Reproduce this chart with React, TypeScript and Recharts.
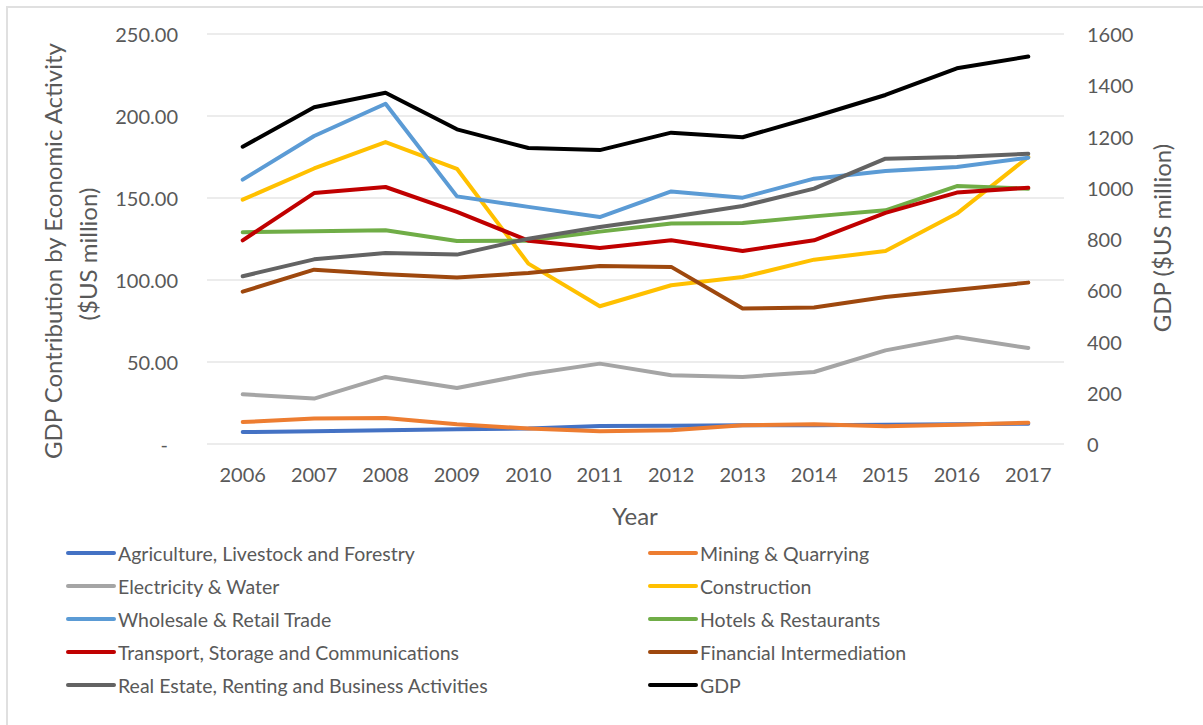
import { LineChart, Line, XAxis, YAxis, CartesianGrid } from "recharts";

const FONT = "Lato, 'Open Sans', sans-serif";
const TEXT = "#595959";

// values
const years = ["2006", "2007", "2008", "2009", "2010", "2011", "2012", "2013", "2014", "2015", "2016", "2017"];
const agriculture = [7.3, 7.7, 8.4, 9.0, 9.4, 11.0, 11.2, 11.4, 11.5, 11.7, 12.0, 12.4];
const mining = [13.4, 15.5, 15.9, 12.0, 9.4, 7.7, 8.4, 11.4, 12.0, 10.8, 11.8, 13.0];
const electricity = [30.3, 27.7, 40.9, 34.1, 42.5, 49.0, 41.9, 40.9, 43.9, 57.1, 65.2, 58.5];
const construction = [149.0, 168.0, 184.1, 167.8, 110.0, 84.0, 96.8, 101.8, 112.4, 117.7, 140.5, 175.0];
const wholesale = [161.2, 187.8, 207.5, 151.0, 144.6, 138.4, 154.0, 150.2, 161.8, 166.5, 168.9, 174.6];
const hotels = [129.1, 129.7, 130.3, 123.8, 124.0, 129.5, 134.4, 134.8, 138.8, 142.5, 157.3, 155.7];
const transport = [124.2, 153.0, 156.7, 141.5, 124.0, 119.5, 124.2, 117.7, 124.2, 140.9, 153.3, 156.3];
const financial = [92.9, 106.3, 103.5, 101.5, 104.3, 108.5, 108.0, 82.6, 83.2, 89.6, 94.1, 98.4];
const realEstate = [102.3, 112.6, 116.5, 115.5, 125.2, 132.3, 138.4, 145.1, 155.7, 174.0, 175.0, 177.0];
const gdp = [1160, 1314, 1371, 1228, 1155, 1147, 1215, 1197, 1277, 1362, 1466, 1512];

const leftTicks = [0, 50, 100, 150, 200, 250];
const rightTicks = [0, 200, 400, 600, 800, 1000, 1200, 1400, 1600];

const series = [
  { key: "agriculture", name: "Agriculture, Livestock and Forestry", color: "#4472C4", values: agriculture, axis: "left" },
  { key: "mining", name: "Mining & Quarrying", color: "#ED7D31", values: mining, axis: "left" },
  { key: "electricity", name: "Electricity & Water", color: "#A5A5A5", values: electricity, axis: "left" },
  { key: "construction", name: "Construction", color: "#FFC000", values: construction, axis: "left" },
  { key: "wholesale", name: "Wholesale & Retail Trade", color: "#5B9BD5", values: wholesale, axis: "left" },
  { key: "hotels", name: "Hotels & Restaurants", color: "#70AD47", values: hotels, axis: "left" },
  { key: "transport", name: "Transport, Storage and Communications", color: "#C00000", values: transport, axis: "left" },
  { key: "financial", name: "Financial Intermediation", color: "#9E480E", values: financial, axis: "left" },
  { key: "realEstate", name: "Real Estate, Renting and Business Activities", color: "#636363", values: realEstate, axis: "left" },
  { key: "gdp", name: "GDP", color: "#000000", values: gdp, axis: "right" },
];

const data = years.map((year, i) => {
  const row: Record<string, any> = { year };
  series.forEach((s) => {
    row[s.key] = s.values[i];
  });
  return row;
});

const LeftTick = ({ x, y, payload }: any) => (
  <text x={x} y={y} dx={payload.value === 0 ? -10 : 0} textAnchor="end" dominantBaseline="central" fill={TEXT} fontSize={20} fontFamily={FONT}>
    {payload.value === 0 ? "-" : Number(payload.value).toFixed(2)}
  </text>
);

const RightTick = ({ x, y, payload }: any) => (
  <text x={x} y={y} textAnchor="start" dominantBaseline="central" fill={TEXT} fontSize={20} fontFamily={FONT}>
    {payload.value}
  </text>
);

const BottomTick = ({ x, y, payload }: any) => (
  <text x={x} y={y} textAnchor="middle" dominantBaseline="central" fill={TEXT} fontSize={20} fontFamily={FONT}>
    {payload.value}
  </text>
);

const LeftTitle = () => (
  <g fill={TEXT} fontSize={24} fontFamily={FONT}>
    <text x={52} y={251} textAnchor="middle" dominantBaseline="central" transform="rotate(-90 52 251)">
      GDP Contribution by Economic Activity
    </text>
    <text x={87} y={254} textAnchor="middle" dominantBaseline="central" transform="rotate(-90 87 254)">
      ($US million)
    </text>
  </g>
);

const RightTitle = () => (
  <text x={1161} y={238} textAnchor="middle" dominantBaseline="central" transform="rotate(-90 1161 238)" fill={TEXT} fontSize={24} fontFamily={FONT}>
    GDP ($US million)
  </text>
);

const XTitle = () => (
  <text x={635} y={515} textAnchor="middle" dominantBaseline="central" fill={TEXT} fontSize={24} fontFamily={FONT}>
    Year
  </text>
);

function ChartLegend() {
  return (
    <>
      {series.map((s, i) => {
        const col = i % 2;
        const row = Math.floor(i / 2);
        const left = col === 0 ? 65 : 647;
        const top = 553 + row * 33;
        return (
          <div key={s.key} style={{ position: "absolute", left, top: top - 14, height: 28, display: "flex", alignItems: "center", whiteSpace: "nowrap" }}>
            <svg width={52} height={8} style={{ display: "block" }}>
              <line x1={3} y1={4} x2={49} y2={4} stroke={s.color} strokeWidth={4} strokeLinecap="round" />
            </svg>
            <span style={{ fontFamily: FONT, fontSize: 19.5, color: TEXT, marginLeft: 1 }}>{s.name}</span>
          </div>
        );
      })}
    </>
  );
}

export default function App() {
  return (
    <div style={{ position: "relative", width: 1203, height: 725, overflow: "hidden", background: "#fff" }}>
      <style>{"body{margin:0;overflow:hidden}"}</style>
      <div style={{ position: "absolute", left: 6, top: 6, width: 1203, height: 725, borderLeft: "2px solid #e0e0e0", borderTop: "2px solid #e0e0e0" }} />
      <div style={{ position: "absolute", left: 0, top: 0 }}>
        <LineChart width={1203} height={540} data={data} margin={{ top: 34, right: 59, bottom: 36, left: 80 }}>
          <CartesianGrid yAxisId="left" vertical={false} stroke="#d9d9d9" strokeWidth={1.2} />
          <XAxis
            dataKey="year"
            axisLine={false}
            tickLine={false}
            tickSize={0}
            tickMargin={30}
            height={60}
            padding={{ left: 35.7, right: 35.7 }}
            tick={<BottomTick />}
            label={<XTitle />}
          />
          <YAxis
            yAxisId="left"
            domain={[0, 250]}
            ticks={leftTicks}
            width={127}
            axisLine={false}
            tickLine={false}
            tickSize={0}
            tickMargin={29}
            tick={<LeftTick />}
            label={<LeftTitle />}
          />
          <YAxis
            yAxisId="right"
            orientation="right"
            domain={[0, 1600]}
            ticks={rightTicks}
            width={80}
            axisLine={false}
            tickLine={false}
            tickSize={0}
            tickMargin={23}
            tick={<RightTick />}
            label={<RightTitle />}
          />
          {series.map((s) => (
            <Line
              key={s.key}
              yAxisId={s.axis}
              type="linear"
              dataKey={s.key}
              name={s.name}
              stroke={s.color}
              strokeWidth={4}
              strokeLinecap="round"
              strokeLinejoin="round"
              dot={false}
              activeDot={false}
              isAnimationActive={false}
            />
          ))}
        </LineChart>
      </div>
      <ChartLegend />
    </div>
  );
}
